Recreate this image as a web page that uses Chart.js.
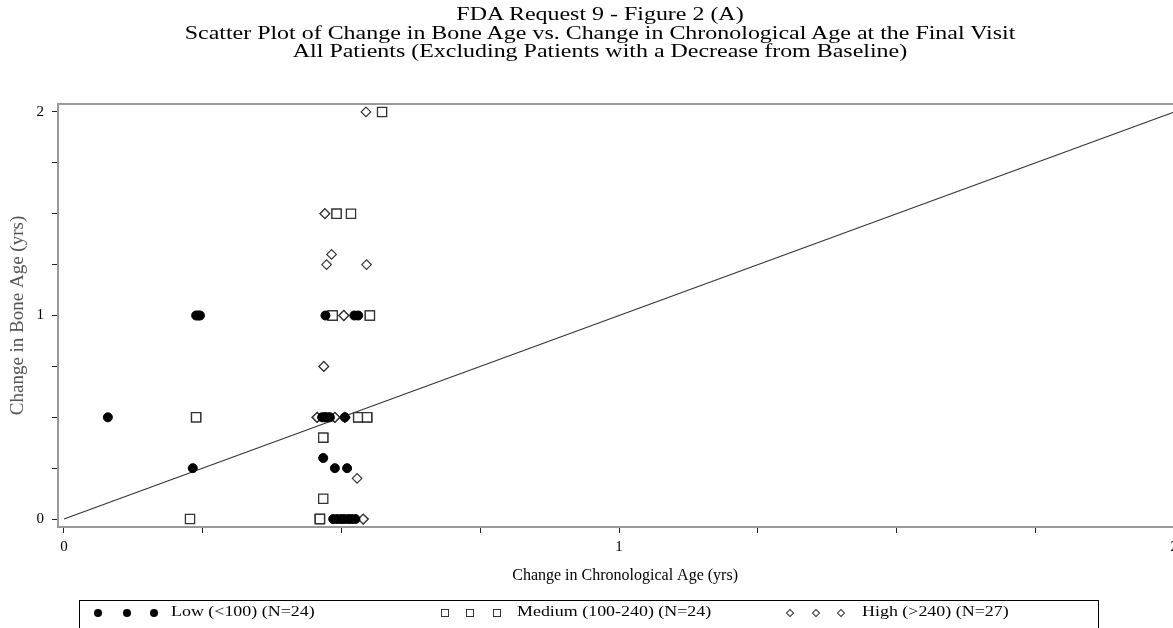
<!DOCTYPE html>
<html>
<head>
<meta charset="utf-8">
<script src="https://cdn.jsdelivr.net/npm/chart.js@4.4.1/dist/chart.umd.min.js"></script>
<style>
  html, body { margin: 0; padding: 0; background: #fff; overflow: hidden; }
  #wrap { position: relative; width: 1173px; height: 628px; overflow: hidden; font-family: "Liberation Serif", "Times New Roman", serif; color: #000; }
  #chart { position: absolute; left: 0; top: 0; }
  #title { position: absolute; left: 0; top: 5px; width: 1200px; text-align: center; font-size: 19px; line-height: 18.5px; }
  #title div { transform: scaleX(1.26); }
  #legend { position: absolute; left: 79px; top: 600px; width: 1020px; height: 60px; border: 1.5px solid #000; box-sizing: border-box; }
  .txt { position: absolute; top: 3px; font-size: 14px; white-space: nowrap; transform-origin: left center; transform: scaleX(1.28); }
  .mk { position: absolute; box-sizing: border-box; }
  .mk.circle { width: 8px; height: 8px; border-radius: 50%; background: #000; top: 8px; }
  .mk.square { width: 8px; height: 8px; border: 1px solid #333; background: #fff; top: 8px; }
  .mk.diamond { width: 6px; height: 6px; border: 1px solid #333; background: #fff; top: 9px; transform: rotate(45deg); }
</style>
</head>
<body>
<div id="wrap">
  <canvas id="chart" width="1200" height="628"></canvas>
  <div id="title">
    <div>FDA Request 9 - Figure 2 (A)</div>
    <div>Scatter Plot of Change in Bone Age vs. Change in Chronological Age at the Final Visit</div>
    <div>All Patients (Excluding Patients with a Decrease from Baseline)</div>
  </div>
  <div id="legend"></div>
</div>
<script>
// Low (<100)
const lowX = [0.079, 0.238, 0.242, 0.245, 0.232, 0.471, 0.523, 0.530,
              0.465, 0.470, 0.470, 0.475, 0.479, 0.506, 0.467, 0.488, 0.510,
              0.485, 0.492, 0.499, 0.505, 0.512, 0.518, 0.525];
const lowY = [0.5, 1.0, 1.0, 1.0, 0.25, 1.0, 1.0, 1.0,
              0.5, 0.5, 0.5, 0.5, 0.5, 0.5, 0.3, 0.25, 0.25,
              0, 0, 0, 0, 0, 0, 0];

// Medium (100-240)
const medX = [0.238, 0.227, 0.573, 0.491, 0.517, 0.484, 0.551, 0.530, 0.546,
              0.467, 0.467, 0.461, 0.461, 0.461, 0.530, 0.530, 0.546, 0.546,
              0.484, 0.484, 0.551, 0.491, 0.238, 0.467];
const medY = [0.5, 0, 2.0, 1.5, 1.5, 1.0, 1.0, 0.5, 0.5,
              0.4, 0.1, 0, 0, 0, 0.5, 0.5, 0.5, 0.5,
              1.0, 1.0, 1.0, 1.5, 0.5, 0.4];

// High (>240)
const highX = [0.544, 0.470, 0.482, 0.473, 0.545, 0.504, 0.468, 0.456, 0.488,
               0.506, 0.528, 0.539, 0.456, 0.456, 0.456, 0.488, 0.488, 0.488,
               0.506, 0.506, 0.506, 0.504, 0.504, 0.539, 0.539, 0.470, 0.468];
const highY = [2.0, 1.5, 1.3, 1.25, 1.25, 1.0, 0.75, 0.5, 0.5,
               0.5, 0.2, 0, 0.5, 0.5, 0.5, 0.5, 0.5, 0.5,
               0.5, 0.5, 0.5, 1.0, 1.0, 0, 0, 1.5, 0.75];

// line of identity
const refX = [0, 2];
const refY = [0, 2];

const seriesNames = ['Low (<100) (N=24)', 'Medium (100-240) (N=24)', 'High (>240) (N=27)'];

const xTickValues = [0, 0.25, 0.5, 0.75, 1, 1.25, 1.5, 1.75, 2];
const xTickLabels = ['0', '', '', '', '1', '', '', '', '2'];
const yTickValues = [0, 0.25, 0.5, 0.75, 1, 1.25, 1.5, 1.75, 2];
const yTickLabels = ['0', '', '', '', '1', '', '', '', '2'];

function zip(xs, ys) {
    return xs.map(function (x, i) { return {x: x, y: ys[i]}; });
}

// top edge of the plot frame
const frame = {
    id: 'frame',
    afterDatasetsDraw(chart) {
        const a = chart.chartArea;
        const ctx = chart.ctx;
        ctx.save();
        ctx.strokeStyle = '#999';
        ctx.lineWidth = 2;
        ctx.beginPath();
        ctx.moveTo(a.left, a.top);
        ctx.lineTo(a.right, a.top);
        ctx.stroke();
        ctx.restore();
    }
};

const serif = '"Liberation Serif", "Times New Roman", serif';

const ctx = document.getElementById('chart').getContext('2d');
const myChart = new Chart(ctx, {
    type: 'scatter',
    data: {
        datasets: [{
            label: seriesNames[0],
            data: zip(lowX, lowY),
            pointStyle: 'circle',
            pointRadius: 4.5,
            backgroundColor: '#000',
            borderColor: '#000',
            borderWidth: 1,
            order: 1
        }, {
            label: seriesNames[1],
            data: zip(medX, medY),
            pointStyle: 'rect',
            pointRadius: 6.5,
            backgroundColor: '#fff',
            borderColor: '#333',
            borderWidth: 1.3,
            order: 2
        }, {
            label: seriesNames[2],
            data: zip(highX, highY),
            pointStyle: 'rectRot',
            pointRadius: 4.8,
            backgroundColor: '#fff',
            borderColor: '#333',
            borderWidth: 1.2,
            order: 3
        }, {
            label: 'ref',
            data: zip(refX, refY),
            showLine: true,
            pointRadius: 0,
            borderColor: '#333',
            borderWidth: 1.1,
            order: 4
        }]
    },
    options: {
        responsive: false,
        animation: false,
        layout: { padding: { top: 104, left: 0, right: 0, bottom: 43 } },
        plugins: {
            legend: { display: false },
            tooltip: { enabled: false }
        },
        scales: {
            x: {
                type: 'linear',
                min: -0.0108,
                max: 2.0324,
                afterFit: function (s) { s.height = 58; },
                afterBuildTicks: function (s) { s.ticks = xTickValues.map(function (v) { return {value: v}; }); },
                ticks: {
                    color: '#000',
                    padding: 5,
                    maxRotation: 0,
                    autoSkip: false,
                    font: { family: serif, size: 15 },
                    callback: function (v, i) { return xTickLabels[i]; }
                },
                grid: { drawOnChartArea: false, tickLength: 6, color: '#222', tickWidth: 1 },
                border: { display: true, color: '#999', width: 2 },
                title: {
                    display: true,
                    text: 'Change in Chronological Age (yrs)',
                    color: '#000',
                    padding: { top: 0, bottom: 0 },
                    font: { family: serif, size: 16 }
                }
            },
            y: {
                type: 'linear',
                min: -0.039,
                max: 2.039,
                afterFit: function (s) { s.width = 58; },
                afterBuildTicks: function (s) { s.ticks = yTickValues.map(function (v) { return {value: v}; }); },
                ticks: {
                    color: '#000',
                    padding: 8,
                    autoSkip: false,
                    font: { family: serif, size: 15 },
                    callback: function (v, i) { return yTickLabels[i]; }
                },
                grid: { drawOnChartArea: false, tickLength: 6, color: '#222', tickWidth: 1 },
                border: { display: true, color: '#999', width: 2 },
                title: {
                    display: true,
                    text: 'Change in Bone Age (yrs)',
                    color: '#555',
                    padding: { top: 7, bottom: 0 },
                    font: { family: serif, size: 19 }
                }
            }
        }
    },
    plugins: [frame]
});

// legend box below the plot
const legendMarks = [
    {cls: 'circle', xs: [97, 126, 153], text: 170},
    {cls: 'square', xs: [444, 469, 496], text: 516},
    {cls: 'diamond', xs: [790, 816, 841], text: 861}
];
const legend = document.getElementById('legend');
legendMarks.forEach(function (m, i) {
    m.xs.forEach(function (cx) {
        const d = document.createElement('div');
        d.className = 'mk ' + m.cls;
        d.style.left = (cx - 79 - 4) + 'px';
        legend.appendChild(d);
    });
    const t = document.createElement('div');
    t.className = 'txt';
    t.style.left = (m.text - 79) + 'px';
    t.textContent = seriesNames[i];
    legend.appendChild(t);
});
</script>
</body>
</html>
